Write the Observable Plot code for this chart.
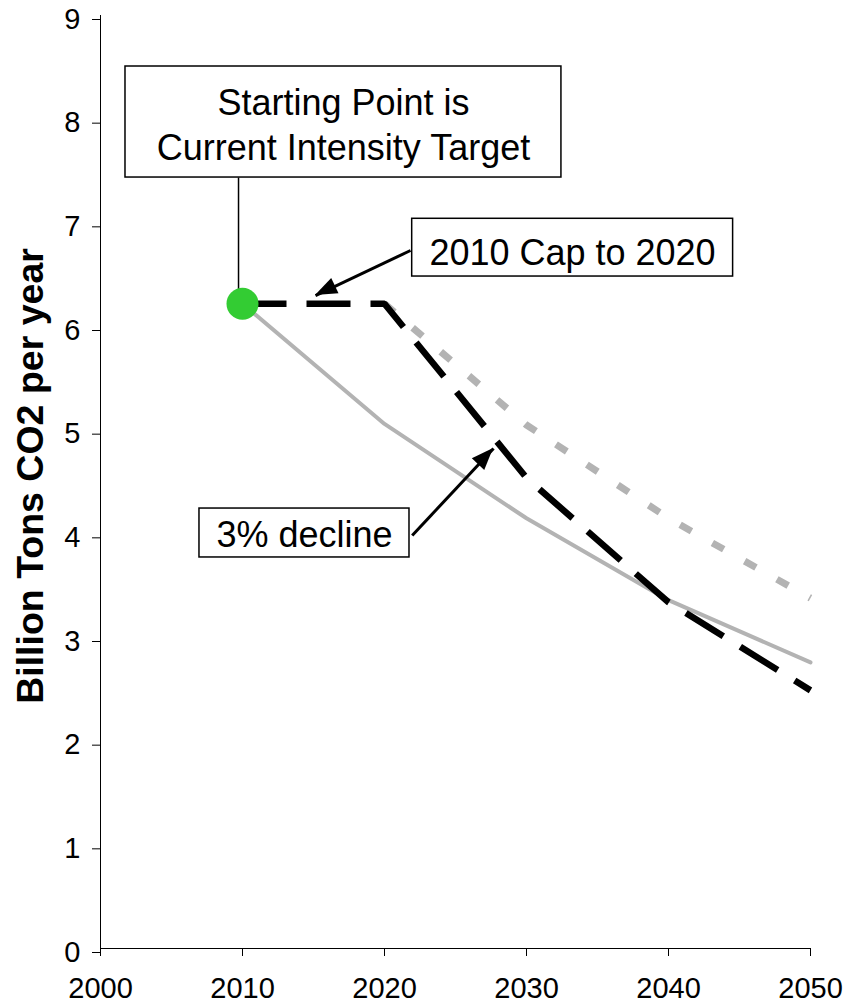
<!DOCTYPE html>
<html>
<head>
<meta charset="utf-8">
<script src="https://cdn.jsdelivr.net/npm/d3@7"></script>
<script src="https://cdn.jsdelivr.net/npm/@observablehq/plot@0.6"></script>
<style>
  html, body { margin: 0; padding: 0; background: #fff; }
  #chart { width: 844px; height: 1004px; }
</style>
</head>
<body>
<div id="chart"></div>
<script>
// ---- data ----
const years = [2010, 2020, 2030, 2040, 2050];
const decline3 = [6.22, 5.06, 4.15, 3.36, 2.76];          // gray solid: 3% decline from 2010
const delayedYears = [2020, 2030, 2040, 2050];
const declineDelayed = [6.22, 5.05, 4.15, 3.38];           // gray dotted: same decline starting 2020
const capYears = [2010, 2020, 2030, 2040, 2050];
const capValues = [6.22, 6.22, 4.54, 3.34, 2.49];          // black dashed: 2010 cap to 2020
const startPoint = [{year: 2010, value: 6.22}];

const xTicks = [2000, 2010, 2020, 2030, 2040, 2050];
const yTicks = [0, 1, 2, 3, 4, 5, 6, 7, 8, 9];
const yTitle = "Billion Tons CO2 per year";

// annotation boxes (data coordinates)
const boxes = [
  {x1: 2001.76, x2: 2032.46, y1: 7.437, y2: 8.508},
  {x1: 2021.95, x2: 2044.55, y1: 6.482, y2: 7.039},
  {x1: 2006.97, x2: 2021.76, y1: 3.772, y2: 4.244}
];
const labels = [
  {x: 2017.11, y: 7.959, text: "Starting Point is\nCurrent Intensity Target"},
  {x: 2033.24, y: 6.736, text: "2010 Cap to 2020"},
  {x: 2014.37, y: 4.008, text: "3% decline"}
];
const connectors = [{x1: 2009.72, y1: 7.437, x2: 2009.72, y2: 6.22}];
const arrows = [
  {x1: 2021.83, y1: 6.733, x2: 2015.14, y2: 6.298},
  {x1: 2021.95, y1: 3.984, x2: 2027.68, y2: 4.823}
];

const solid = years.map((y, i) => ({year: y, value: decline3[i]}));
const dotted = delayedYears.map((y, i) => ({year: y, value: declineDelayed[i]}));
const cap = capYears.map((y, i) => ({year: y, value: capValues[i]}));

function arrowHeads(data) {
  return (index, scales) => {
    const g = d3.create("svg:g");
    for (const a of data) {
      const x1 = scales.x(a.x1), y1 = scales.y(a.y1);
      const x2 = scales.x(a.x2), y2 = scales.y(a.y2);
      const ang = Math.atan2(y2 - y1, x2 - x1);
      const L = 22, W = 8.5;
      const bx = x2 - L * Math.cos(ang), by = y2 - L * Math.sin(ang);
      const px = -Math.sin(ang) * W, py = Math.cos(ang) * W;
      g.append("path")
        .attr("d", `M${x2},${y2}L${bx + px},${by + py}L${bx - px},${by - py}Z`)
        .attr("fill", "black");
    }
    return g.node();
  };
}

const font = "'Liberation Sans', Arial, Helvetica, sans-serif";

const chart = Plot.plot({
  width: 844,
  height: 1004,
  marginLeft: 100,
  marginRight: 34,
  marginTop: 15,
  marginBottom: 56,
  style: {fontFamily: font, background: "white", color: "black"},
  x: {domain: [2000, 2050]},
  y: {domain: [0, 9]},
  marks: [
    Plot.axisX({ticks: xTicks, tickFormat: d => String(d), tickSize: 8, tickPadding: 21, fontSize: 29, label: null, stroke: "black"}),
    Plot.axisY({ticks: yTicks, tickSize: 8, tickPadding: 12, fontSize: 29, label: null, dy: 4, stroke: "black"}),
    Plot.ruleX([2000], {stroke: "black", strokeWidth: 1}),
    Plot.ruleY([0], {stroke: "black", strokeWidth: 1}),
    Plot.text([yTitle], {frameAnchor: "left", rotate: -90, dx: -70, dy: -6, fontSize: 37.5, fontWeight: "bold", textAnchor: "middle", lineAnchor: "middle", fill: "black"}),
    Plot.line(solid, {x: "year", y: "value", stroke: "#b3b3b3", strokeWidth: 4, strokeLinejoin: "round"}),
    Plot.line(dotted, {x: "year", y: "value", stroke: "#b3b3b3", strokeWidth: 7, strokeDasharray: "13,24", strokeLinecap: "butt"}),
    Plot.line(cap, {x: "year", y: "value", stroke: "black", strokeWidth: 6.5, strokeDasharray: "44,20", strokeLinecap: "butt", strokeLinejoin: "miter"}),
    Plot.link(connectors, {x1: "x1", y1: "y1", x2: "x2", y2: "y2", stroke: "black", strokeWidth: 1.5}),
    Plot.dot(startPoint, {x: "year", y: "value", r: 16, fill: "#33cc33", stroke: "none"}),
    Plot.rect(boxes, {x1: "x1", x2: "x2", y1: "y1", y2: "y2", fill: "white", stroke: "black", strokeWidth: 1.5}),
    Plot.text(labels, {x: "x", y: "y", text: "text", fontSize: 36, lineHeight: 1.25, textAnchor: "middle", lineAnchor: "middle", fill: "black"}),
    Plot.link(arrows, {x1: "x1", y1: "y1", x2: "x2", y2: "y2", stroke: "black", strokeWidth: 3}),
    arrowHeads(arrows)
  ]
});

document.getElementById("chart").appendChild(chart);
</script>
</body>
</html>
